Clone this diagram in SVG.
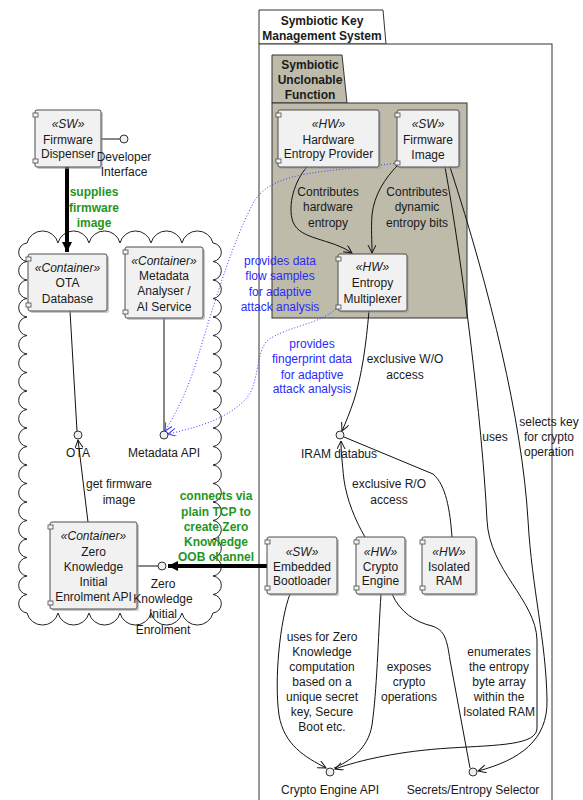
<svg xmlns="http://www.w3.org/2000/svg" width="583" height="800" viewBox="0 0 583 800">
<style>
text{font-family:"Liberation Sans",Arial,sans-serif;font-size:12px;fill:#1a1a1a;text-anchor:middle}
.st{font-style:italic}
.b{font-weight:bold}
.g{font-weight:bold;fill:#1f961f}
.bl{fill:#2a2aff}
.box{fill:#f1f1f1;stroke:#4d4d4d;stroke-width:1}
.sh{fill:#9a9a9a;opacity:.55}
.port{fill:#f4f4f4;stroke:#4d4d4d;stroke-width:.8}
.lp{fill:#eeeeee;stroke:#333;stroke-width:1}
.c{fill:none;stroke:#111;stroke-width:1}
.th{fill:none;stroke:#000;stroke-width:4}
.dot{fill:none;stroke:#3b3bff;stroke-width:1;stroke-dasharray:1 2}
.pk{fill:#fff;stroke:#333;stroke-width:1}
.pk2{fill:#bebbab;stroke:#333;stroke-width:1}
</style>
<defs>
<marker id="a" markerWidth="10" markerHeight="10" refX="8" refY="4" orient="auto" markerUnits="userSpaceOnUse"><path d="M0,0 L8,4 L0,8" fill="none" stroke="#111" stroke-width="1"/></marker>
<marker id="ab" markerWidth="10" markerHeight="10" refX="8" refY="4" orient="auto" markerUnits="userSpaceOnUse"><path d="M0,0 L8,4 L0,8" fill="none" stroke="#3b3bff" stroke-width="1"/></marker>
<marker id="af" markerWidth="12" markerHeight="12" refX="10" refY="5" orient="auto" markerUnits="userSpaceOnUse"><path d="M0,0 L10,5 L0,10 Z" fill="#000"/></marker>
</defs>

<g id="pkg-skms">
<path class="pk" d="M259,44 V10 H383 L386,44 Z"/>
<rect class="pk" x="259" y="44" width="293" height="770"/>
<text class="b" x="322" y="25">Symbiotic Key</text>
<text class="b" x="322" y="40">Management System</text>
</g>

<g id="pkg-suf">
<path class="pk2" d="M272,103 V55 H342 L347,103 Z"/>
<rect class="pk2" x="272" y="103" width="195" height="215"/>
<text class="b" x="310" y="69">Symbiotic</text>
<text class="b" x="310" y="84">Unclonable</text>
<text class="b" x="310" y="99">Function</text>
</g>

<g id="cloud">
<path fill="none" stroke="#222" stroke-width="1" d="M27,243 a16,16 0 0 1 31,0 a16,16 0 0 1 31,0 a16,16 0 0 1 31,0 a16,16 0 0 1 31,0 a16,16 0 0 1 31,0 a16,16 0 0 1 31,0
a9.3,9.3 0 0 1 0,18.5 a9.3,9.3 0 0 1 0,18.5 a9.3,9.3 0 0 1 0,18.5 a9.3,9.3 0 0 1 0,18.5 a9.3,9.3 0 0 1 0,18.5 a9.3,9.3 0 0 1 0,18.5 a9.3,9.3 0 0 1 0,18.5 a9.3,9.3 0 0 1 0,18.5 a9.3,9.3 0 0 1 0,18.5 a9.3,9.3 0 0 1 0,18.5 a9.3,9.3 0 0 1 0,18.5 a9.3,9.3 0 0 1 0,18.5 a9.3,9.3 0 0 1 0,18.5 a9.3,9.3 0 0 1 0,18.5 a9.3,9.3 0 0 1 0,18.5 a9.3,9.3 0 0 1 0,18.5 a9.3,9.3 0 0 1 0,18.5 a9.3,9.3 0 0 1 0,18.5 a9.3,9.3 0 0 1 0,18.5 a9.3,9.3 0 0 1 0,18.5
a16,16 0 0 1 -31,0 a16,16 0 0 1 -31,0 a16,16 0 0 1 -31,0 a16,16 0 0 1 -31,0 a16,16 0 0 1 -31,0 a16,16 0 0 1 -31,0
a9.3,9.3 0 0 1 0,-18.5 a9.3,9.3 0 0 1 0,-18.5 a9.3,9.3 0 0 1 0,-18.5 a9.3,9.3 0 0 1 0,-18.5 a9.3,9.3 0 0 1 0,-18.5 a9.3,9.3 0 0 1 0,-18.5 a9.3,9.3 0 0 1 0,-18.5 a9.3,9.3 0 0 1 0,-18.5 a9.3,9.3 0 0 1 0,-18.5 a9.3,9.3 0 0 1 0,-18.5 a9.3,9.3 0 0 1 0,-18.5 a9.3,9.3 0 0 1 0,-18.5 a9.3,9.3 0 0 1 0,-18.5 a9.3,9.3 0 0 1 0,-18.5 a9.3,9.3 0 0 1 0,-18.5 a9.3,9.3 0 0 1 0,-18.5 a9.3,9.3 0 0 1 0,-18.5 a9.3,9.3 0 0 1 0,-18.5 a9.3,9.3 0 0 1 0,-18.5 a9.3,9.3 0 0 1 0,-18.5 Z"/>
</g>

<g id="connectors">
<line class="th" x1="67" y1="167" x2="67" y2="252" stroke-width="3" marker-end="url(#af)"/>
<line class="c" x1="70" y1="311" x2="77" y2="431"/>
<line class="c" x1="88" y1="522" x2="78" y2="440" marker-end="url(#a)"/>
<line class="c" x1="164" y1="318" x2="164" y2="431"/>
<line class="c" x1="101" y1="139" x2="120" y2="139"/>
<line class="c" x1="137" y1="566" x2="158" y2="566" stroke="#777"/>
<line class="th" x1="267" y1="566" x2="168" y2="566" marker-end="url(#af)"/>
<path class="c" d="M307,167 C295,180 287,205 293,222 C300,240 330,238 352,253" marker-end="url(#a)"/>
<path class="c" d="M398,165 C385,178 374,195 372,215 C371,230 372,240 372,253" marker-end="url(#a)"/>
<path class="c" d="M369,311 C366,345 362,375 354,400 C350,412 346,422 342,431" marker-end="url(#a)"/>
<path class="c" d="M365,537 C355,520 347,500 344,480 C342,462 341,450 341,441" marker-end="url(#a)"/>
<path class="c" d="M452,537 C450,510 446,485 433,474 L344,437"/>
<path class="c" d="M445,167 C462,260 482,420 487,520 C489,570 536,600 537,640 L537,728 C537,745 500,745 450,748 C400,751 360,760 335,769" marker-end="url(#a)"/>
<path class="c" d="M450,167 C490,290 522,420 528,520 C532,590 546,640 547,700 C548,740 520,760 478,771" marker-end="url(#a)"/>
<path class="c" d="M290,594 C280,620 274,680 279,715 C284,745 305,757 326,768" marker-end="url(#a)"/>
<path class="c" d="M381,594 C378,640 377,690 372,725 C368,750 348,762 334,768"/>
<path class="c" d="M392,594 C400,612 415,622 432,626 C445,630 447,640 450,660 L470,768"/>
<path class="dot" d="M397,163 C330,172 275,170 255,200 C235,235 215,300 200,350 C190,385 178,410 165,431" marker-end="url(#ab)"/>
<path class="dot" d="M338,307 C320,325 290,325 268,340 C255,352 260,385 245,400 C225,420 195,428 168,434" marker-end="url(#ab)"/>
</g>

<g id="labels">
<text class="g" x="94" y="196">supplies</text>
<text class="g" x="94" y="212">firmware</text>
<text class="g" x="94" y="227">image</text>
<text x="119" y="488">get firmware</text>
<text x="119" y="504">image</text>
<text class="g" x="216" y="500">connects via</text>
<text class="g" x="216" y="516">plain TCP to</text>
<text class="g" x="216" y="531">create Zero</text>
<text class="g" x="216" y="546">Knowledge</text>
<text class="g" x="216" y="561">OOB channel</text>
<text x="328" y="196">Contributes</text>
<text x="328" y="211">hardware</text>
<text x="328" y="227">entropy</text>
<text x="417" y="196">Contributes</text>
<text x="417" y="211">dynamic</text>
<text x="417" y="227">entropy bits</text>
<text class="bl" x="280" y="265">provides data</text>
<text class="bl" x="280" y="280">flow samples</text>
<text class="bl" x="280" y="296">for adaptive</text>
<text class="bl" x="280" y="311">attack analysis</text>
<text class="bl" x="312" y="348">provides</text>
<text class="bl" x="312" y="363">fingerprint data</text>
<text class="bl" x="312" y="379">for adaptive</text>
<text class="bl" x="312" y="393">attack analysis</text>
<text x="405" y="363">exclusive W/O</text>
<text x="405" y="379">access</text>
<text x="389" y="488">exclusive R/O</text>
<text x="389" y="504">access</text>
<text x="495" y="441">uses</text>
<text x="549" y="426">selects key</text>
<text x="549" y="441">for crypto</text>
<text x="549" y="456">operation</text>
<text x="322" y="641">uses for Zero</text>
<text x="322" y="656">Knowledge</text>
<text x="322" y="671">computation</text>
<text x="322" y="686">based on a</text>
<text x="322" y="701">unique secret</text>
<text x="322" y="716">key, Secure</text>
<text x="322" y="731">Boot etc.</text>
<text x="409" y="671">exposes</text>
<text x="409" y="686">crypto</text>
<text x="409" y="701">operations</text>
<text x="499" y="656">enumerates</text>
<text x="499" y="671">the entropy</text>
<text x="499" y="686">byte array</text>
<text x="499" y="701">within the</text>
<text x="499" y="716">Isolated RAM</text>
</g>

<g id="firmware-dispenser">
<rect class="sh" x="37" y="112" width="66" height="57" rx="2"/>
<rect class="box" x="35" y="110" width="66" height="57" rx="2"/>
<rect class="port" x="33" y="113" width="5" height="4"/><rect class="port" x="33" y="159" width="5" height="4"/>
<text class="st" x="68" y="128">«SW»</text><text x="68" y="144">Firmware</text><text x="68" y="158">Dispenser</text>
</g>
<g id="developer-interface">
<circle class="lp" cx="124" cy="139" r="4"/>
<text x="124" y="161">Developer</text><text x="124" y="176">Interface</text>
</g>

<g id="ota-database">
<rect class="sh" x="30" y="256" width="79" height="57" rx="2"/>
<rect class="box" x="28" y="254" width="79" height="57" rx="2"/>
<rect class="port" x="26" y="257" width="5" height="4"/><rect class="port" x="26" y="303" width="5" height="4"/>
<text class="st" x="67.5" y="272">«Container»</text><text x="67.5" y="287">OTA</text><text x="67.5" y="303">Database</text>
</g>

<g id="metadata-analyser">
<rect class="sh" x="127" y="249" width="78" height="71" rx="2"/>
<rect class="box" x="125" y="247" width="78" height="71" rx="2"/>
<rect class="port" x="123" y="250" width="5" height="4"/><rect class="port" x="123" y="310" width="5" height="4"/>
<text class="st" x="164" y="265">«Container»</text><text x="164" y="280">Metadata</text><text x="164" y="295">Analyser /</text><text x="164" y="311">AI Service</text>
</g>

<g id="ota-if"><circle class="lp" cx="78" cy="435" r="4"/><text x="78" y="457">OTA</text></g>
<g id="metadata-api"><circle class="lp" cx="164" cy="435" r="4"/><text x="164" y="457">Metadata API</text></g>

<g id="zk-api">
<rect class="sh" x="52" y="524" width="87" height="87" rx="2"/>
<rect class="box" x="50" y="522" width="87" height="87" rx="2"/>
<rect class="port" x="48" y="525" width="5" height="4"/><rect class="port" x="48" y="601" width="5" height="4"/>
<text class="st" x="93.5" y="540">«Container»</text><text x="93.5" y="556">Zero</text><text x="93.5" y="571">Knowledge</text><text x="93.5" y="586">Initial</text><text x="93.5" y="601">Enrolment API</text>
</g>
<g id="zk-enrolment">
<circle class="lp" cx="162" cy="566" r="4"/>
<text x="163" y="588">Zero</text><text x="163" y="603">Knowledge</text><text x="163" y="618">Initial</text><text x="163" y="634">Enrolment</text>
</g>

<g id="hw-entropy-provider">
<rect class="sh" x="280" y="112" width="101" height="57" rx="2"/>
<rect class="box" x="278" y="110" width="101" height="57" rx="2"/>
<rect class="port" x="276" y="113" width="5" height="4"/><rect class="port" x="276" y="159" width="5" height="4"/>
<text class="st" x="328.5" y="128">«HW»</text><text x="328.5" y="144">Hardware</text><text x="328.5" y="158">Entropy Provider</text>
</g>

<g id="firmware-image">
<rect class="sh" x="399" y="112" width="62" height="57" rx="2"/>
<rect class="box" x="397" y="110" width="62" height="57" rx="2"/>
<rect class="port" x="395" y="113" width="5" height="4"/><rect class="port" x="395" y="161" width="5" height="4"/>
<text class="st" x="428" y="128">«SW»</text><text x="428" y="144">Firmware</text><text x="428" y="159">Image</text>
</g>

<g id="entropy-multiplexer">
<rect class="sh" x="340" y="256" width="69" height="57" rx="2"/>
<rect class="box" x="338" y="254" width="69" height="57" rx="2"/>
<rect class="port" x="336" y="257" width="5" height="4"/><rect class="port" x="336" y="305" width="5" height="4"/>
<text class="st" x="372.5" y="271">«HW»</text><text x="372.5" y="287">Entropy</text><text x="372.5" y="303">Multiplexer</text>
</g>

<g id="iram-databus"><circle class="lp" cx="340" cy="435" r="4"/><text x="339" y="458">IRAM databus</text></g>

<g id="embedded-bootloader">
<rect class="sh" x="269" y="539" width="70" height="57" rx="2"/>
<rect class="box" x="267" y="537" width="70" height="57" rx="2"/>
<rect class="port" x="265" y="540" width="5" height="4"/><rect class="port" x="265" y="586" width="5" height="4"/>
<text class="st" x="302" y="556">«SW»</text><text x="302" y="571">Embedded</text><text x="302" y="585">Bootloader</text>
</g>

<g id="crypto-engine">
<rect class="sh" x="358" y="539" width="49" height="57" rx="2"/>
<rect class="box" x="356" y="537" width="49" height="57" rx="2"/>
<rect class="port" x="354" y="540" width="5" height="4"/><rect class="port" x="354" y="586" width="5" height="4"/>
<text class="st" x="380.5" y="556">«HW»</text><text x="380.5" y="571">Crypto</text><text x="380.5" y="585">Engine</text>
</g>

<g id="isolated-ram">
<rect class="sh" x="424" y="539" width="54" height="57" rx="2"/>
<rect class="box" x="422" y="537" width="54" height="57" rx="2"/>
<rect class="port" x="420" y="540" width="5" height="4"/><rect class="port" x="420" y="586" width="5" height="4"/>
<text class="st" x="449" y="556">«HW»</text><text x="449" y="571">Isolated</text><text x="449" y="585">RAM</text>
</g>

<g id="crypto-engine-api"><circle class="lp" cx="330" cy="772" r="4"/><text x="330" y="794">Crypto Engine API</text></g>
<g id="secrets-selector"><circle class="lp" cx="473" cy="772" r="4"/><text x="473" y="794">Secrets/Entropy Selector</text></g>
</svg>
